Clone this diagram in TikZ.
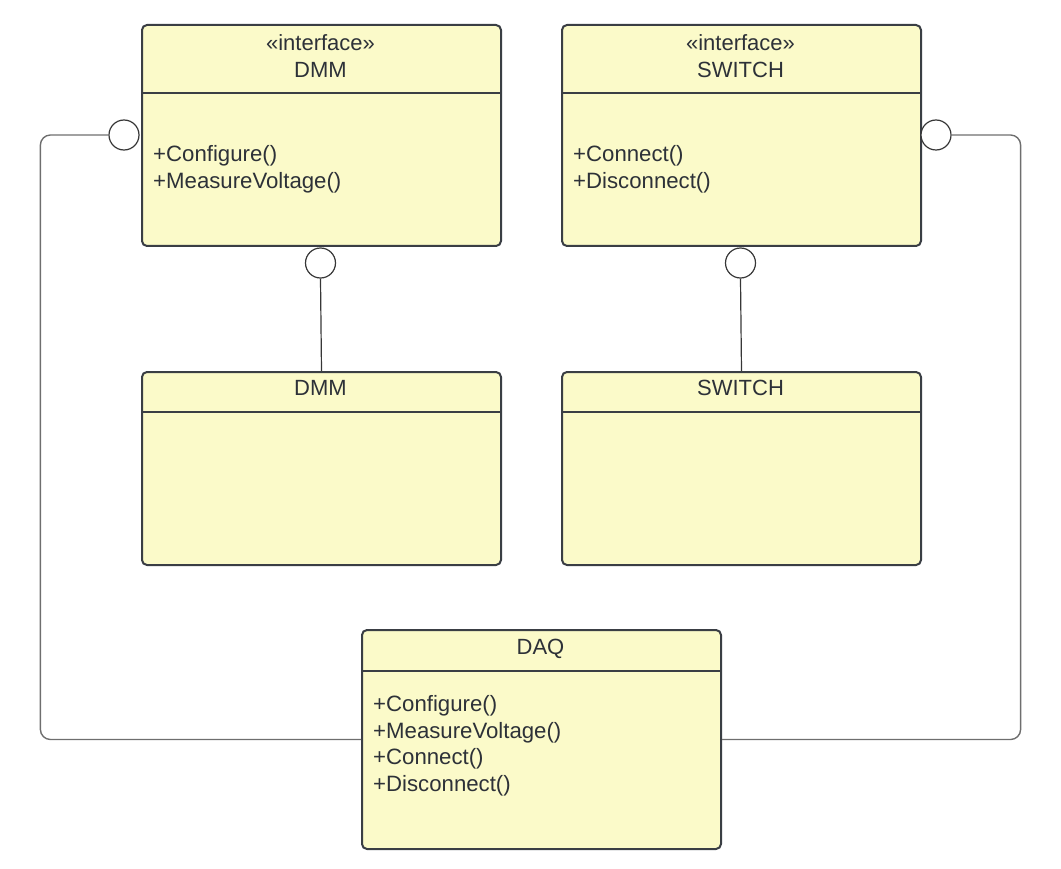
\documentclass[tikz,border=0pt]{standalone}
\usepackage{fontspec}
\setmainfont{Liberation Sans}
\definecolor{umlfill}{RGB}{251,250,201}
\definecolor{boxline}{RGB}{58,62,68}
\definecolor{txtcol}{RGB}{45,49,56}
\definecolor{conncol}{RGB}{110,110,110}
\definecolor{stemcol}{RGB}{55,55,55}
\tikzset{
  umlbox/.style={draw=boxline, fill=umlfill, line width=2pt, rounded corners=5pt,
    minimum width=359pt, inner sep=0pt, anchor=north west},
  sepline/.style={draw=boxline, line width=2pt},
  title/.style={anchor=base, inner sep=0pt, text=txtcol, font=\fontsize{22}{26}\selectfont},
  meth/.style={anchor=base west, inner sep=0pt, text=txtcol, font=\fontsize{22.2}{26}\selectfont},
  lolli/.style={circle, draw=stemcol, fill=white, line width=1.2pt, minimum size=30pt, inner sep=0pt},
  conn/.style={draw=conncol, line width=1.4pt, rounded corners=10pt},
  stem/.style={draw=stemcol, line width=1.2pt}
}
\begin{document}
\begin{tikzpicture}[x=1pt,y=-1pt]
\useasboundingbox (0,0) rectangle (1061,869);

% interface DMM
\node[umlbox, minimum height=221pt] (idmm) at (141,24) {};
\draw[sepline] ([yshift=-69pt]idmm.north west) -- ([yshift=-69pt]idmm.north east);
\node[title] (idmmst) at (320.5,51) {«interface»};
\node[title] (idmmt) at (320.5,77.5) {DMM};
\node[meth] (idmm1) at (153,161.5) {+Configure()};
\node[meth] (idmm2) at (153,188.5) {+MeasureVoltage()};

% interface SWITCH
\node[umlbox, minimum height=221pt] (isw) at (561,24) {};
\draw[sepline] ([yshift=-69pt]isw.north west) -- ([yshift=-69pt]isw.north east);
\node[title] (iswst) at (740.5,51) {«interface»};
\node[title] (iswt) at (740.5,77.5) {SWITCH};
\node[meth] (isw1) at (573,161.5) {+Connect()};
\node[meth] (isw2) at (573,188.5) {+Disconnect()};

% DMM class
\node[umlbox, minimum height=193pt] (dmm) at (141,371) {};
\draw[sepline] ([yshift=-41pt]dmm.north west) -- ([yshift=-41pt]dmm.north east);
\node[title] (dmmt) at (320.5,395.5) {DMM};

% SWITCH class
\node[umlbox, minimum height=193pt] (sw) at (561,371) {};
\draw[sepline] ([yshift=-41pt]sw.north west) -- ([yshift=-41pt]sw.north east);
\node[title] (swt) at (740.5,395.5) {SWITCH};

% DAQ class
\node[umlbox, minimum height=219pt] (daq) at (361,629) {};
\draw[sepline] ([yshift=-42pt]daq.north west) -- ([yshift=-42pt]daq.north east);
\node[title] (daqt) at (540.5,654.5) {DAQ};
\node[meth] (daq1) at (373,711.5) {+Configure()};
\node[meth] (daq2) at (373,738.5) {+MeasureVoltage()};
\node[meth] (daq3) at (373,764.5) {+Connect()};
\node[meth] (daq4) at (373,791.5) {+Disconnect()};

% lollipops
\node[lolli] (cl) at (124,135) {};
\node[lolli] (cr) at (936,135) {};
\node[lolli] (cd) at (320.5,263) {};
\node[lolli] (cs) at (740.5,263) {};

% connectors
\draw[stem] (cd.south) -- (dmm.north);
\draw[stem] (cs.south) -- (sw.north);
\draw[conn] (cl.west) -- ++(-68,0) |- (daq.west);
\draw[conn] (cr.east) -- ++(69,0) |- (daq.east);
\end{tikzpicture}
\end{document}
